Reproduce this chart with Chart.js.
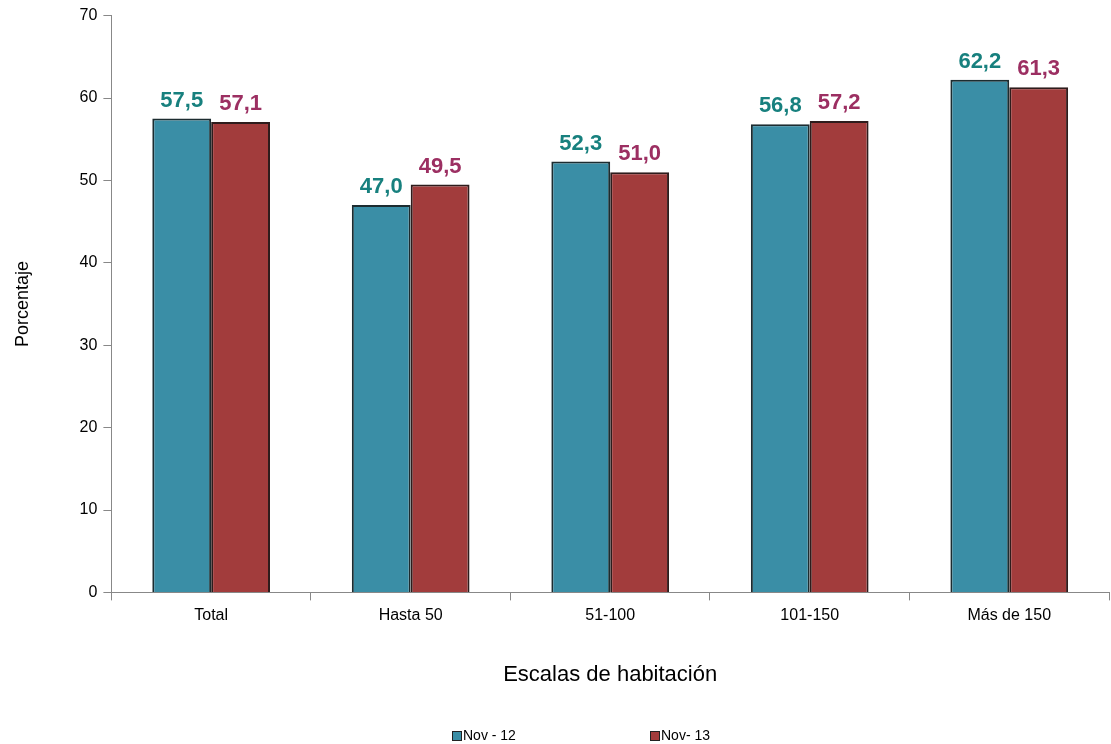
<!DOCTYPE html>
<html>
<head>
<style>
  body { margin: 0; background: #fff; }
  #wrap { width: 1111px; height: 744px; }
</style>
</head>
<body>
<div id="wrap"><canvas id="habChart"></canvas></div>
<script src="https://cdn.jsdelivr.net/npm/chart.js"></script>
<script>
var categories = ['Total', 'Hasta 50', '51-100', '101-150', 'Más de 150'];
var seriesNames = ['Nov - 12', 'Nov- 13'];
var nov12 = [57.5, 47.0, 52.3, 56.8, 62.2];
var nov13 = [57.1, 49.5, 51.0, 57.2, 61.3];
var yTicks = [0, 10, 20, 30, 40, 50, 60, 70];

var FONT = 'Liberation Sans, Arial, sans-serif';
var baseCols = ['#3a8ea6', '#a23c3c'];
var labelCols = ['#17807e', '#9c2f62'];

var extras = {
    id: 'extras',
    afterDatasetsDraw: function (chart) {
        var ctx = chart.ctx;
        ctx.save();
        ctx.font = 'bold 22px ' + FONT;
        ctx.textAlign = 'center';
        ctx.textBaseline = 'bottom';
        chart.data.datasets.forEach(function (ds, i) {
            chart.getDatasetMeta(i).data.forEach(function (bar, j) {
                ctx.fillStyle = labelCols[i];
                ctx.fillText(ds.data[j].toFixed(1).replace('.', ','), bar.x, bar.y - 7);
            });
        });
        // legend
        ctx.font = '14px ' + FONT;
        ctx.textAlign = 'left';
        ctx.textBaseline = 'middle';
        var xs = [452, 650];
        seriesNames.forEach(function (n, i) {
            ctx.fillStyle = baseCols[i];
            ctx.fillRect(xs[i], 731, 10, 10);
            ctx.strokeStyle = '#222';
            ctx.lineWidth = 1;
            ctx.strokeRect(xs[i] + 0.5, 731.5, 9, 9);
            ctx.fillStyle = '#000';
            ctx.fillText(n, xs[i] + 11, 736);
        });
        ctx.restore();
    }
};

new Chart(document.getElementById('habChart').getContext('2d'), {
    type: 'bar',
    data: {
        labels: categories,
        datasets: [
            { label: seriesNames[0], data: nov12, backgroundColor: baseCols[0], borderColor: '#1c2c30', borderWidth: 2 },
            { label: seriesNames[1], data: nov13, backgroundColor: baseCols[1], borderColor: '#2e1c1c', borderWidth: 2 }
        ]
    },
    options: {
        responsive: true,
        maintainAspectRatio: false,
        animation: false,
        layout: { padding: { top: 13, right: 2, bottom: 52, left: 8 } },
        datasets: { bar: { categoryPercentage: 0.59, barPercentage: 1.0 } },
        plugins: { legend: { display: false }, tooltip: { enabled: false } },
        scales: {
            x: {
                grid: { display: true, drawOnChartArea: false, offset: true, color: '#888', tickLength: 8 },
                border: { color: '#888' },
                ticks: { color: '#000', font: { family: FONT, size: 16 }, padding: 6 },
                title: { display: true, text: 'Escalas de habitación', color: '#000', font: { family: FONT, size: 22 }, padding: { top: 30 } }
            },
            y: {
                min: 0, max: 70,
                afterBuildTicks: function (s) { s.ticks = yTicks.map(function (v) { return { value: v }; }); },
                grid: { drawOnChartArea: false, color: '#888', tickLength: 8 },
                border: { color: '#888' },
                ticks: { color: '#000', font: { family: FONT, size: 16 }, padding: 6 },
                title: { display: true, text: 'Porcentaje', color: '#000', font: { family: FONT, size: 18 }, padding: { bottom: 40 } }
            }
        }
    },
    plugins: [extras]
});
</script>
</body>
</html>
